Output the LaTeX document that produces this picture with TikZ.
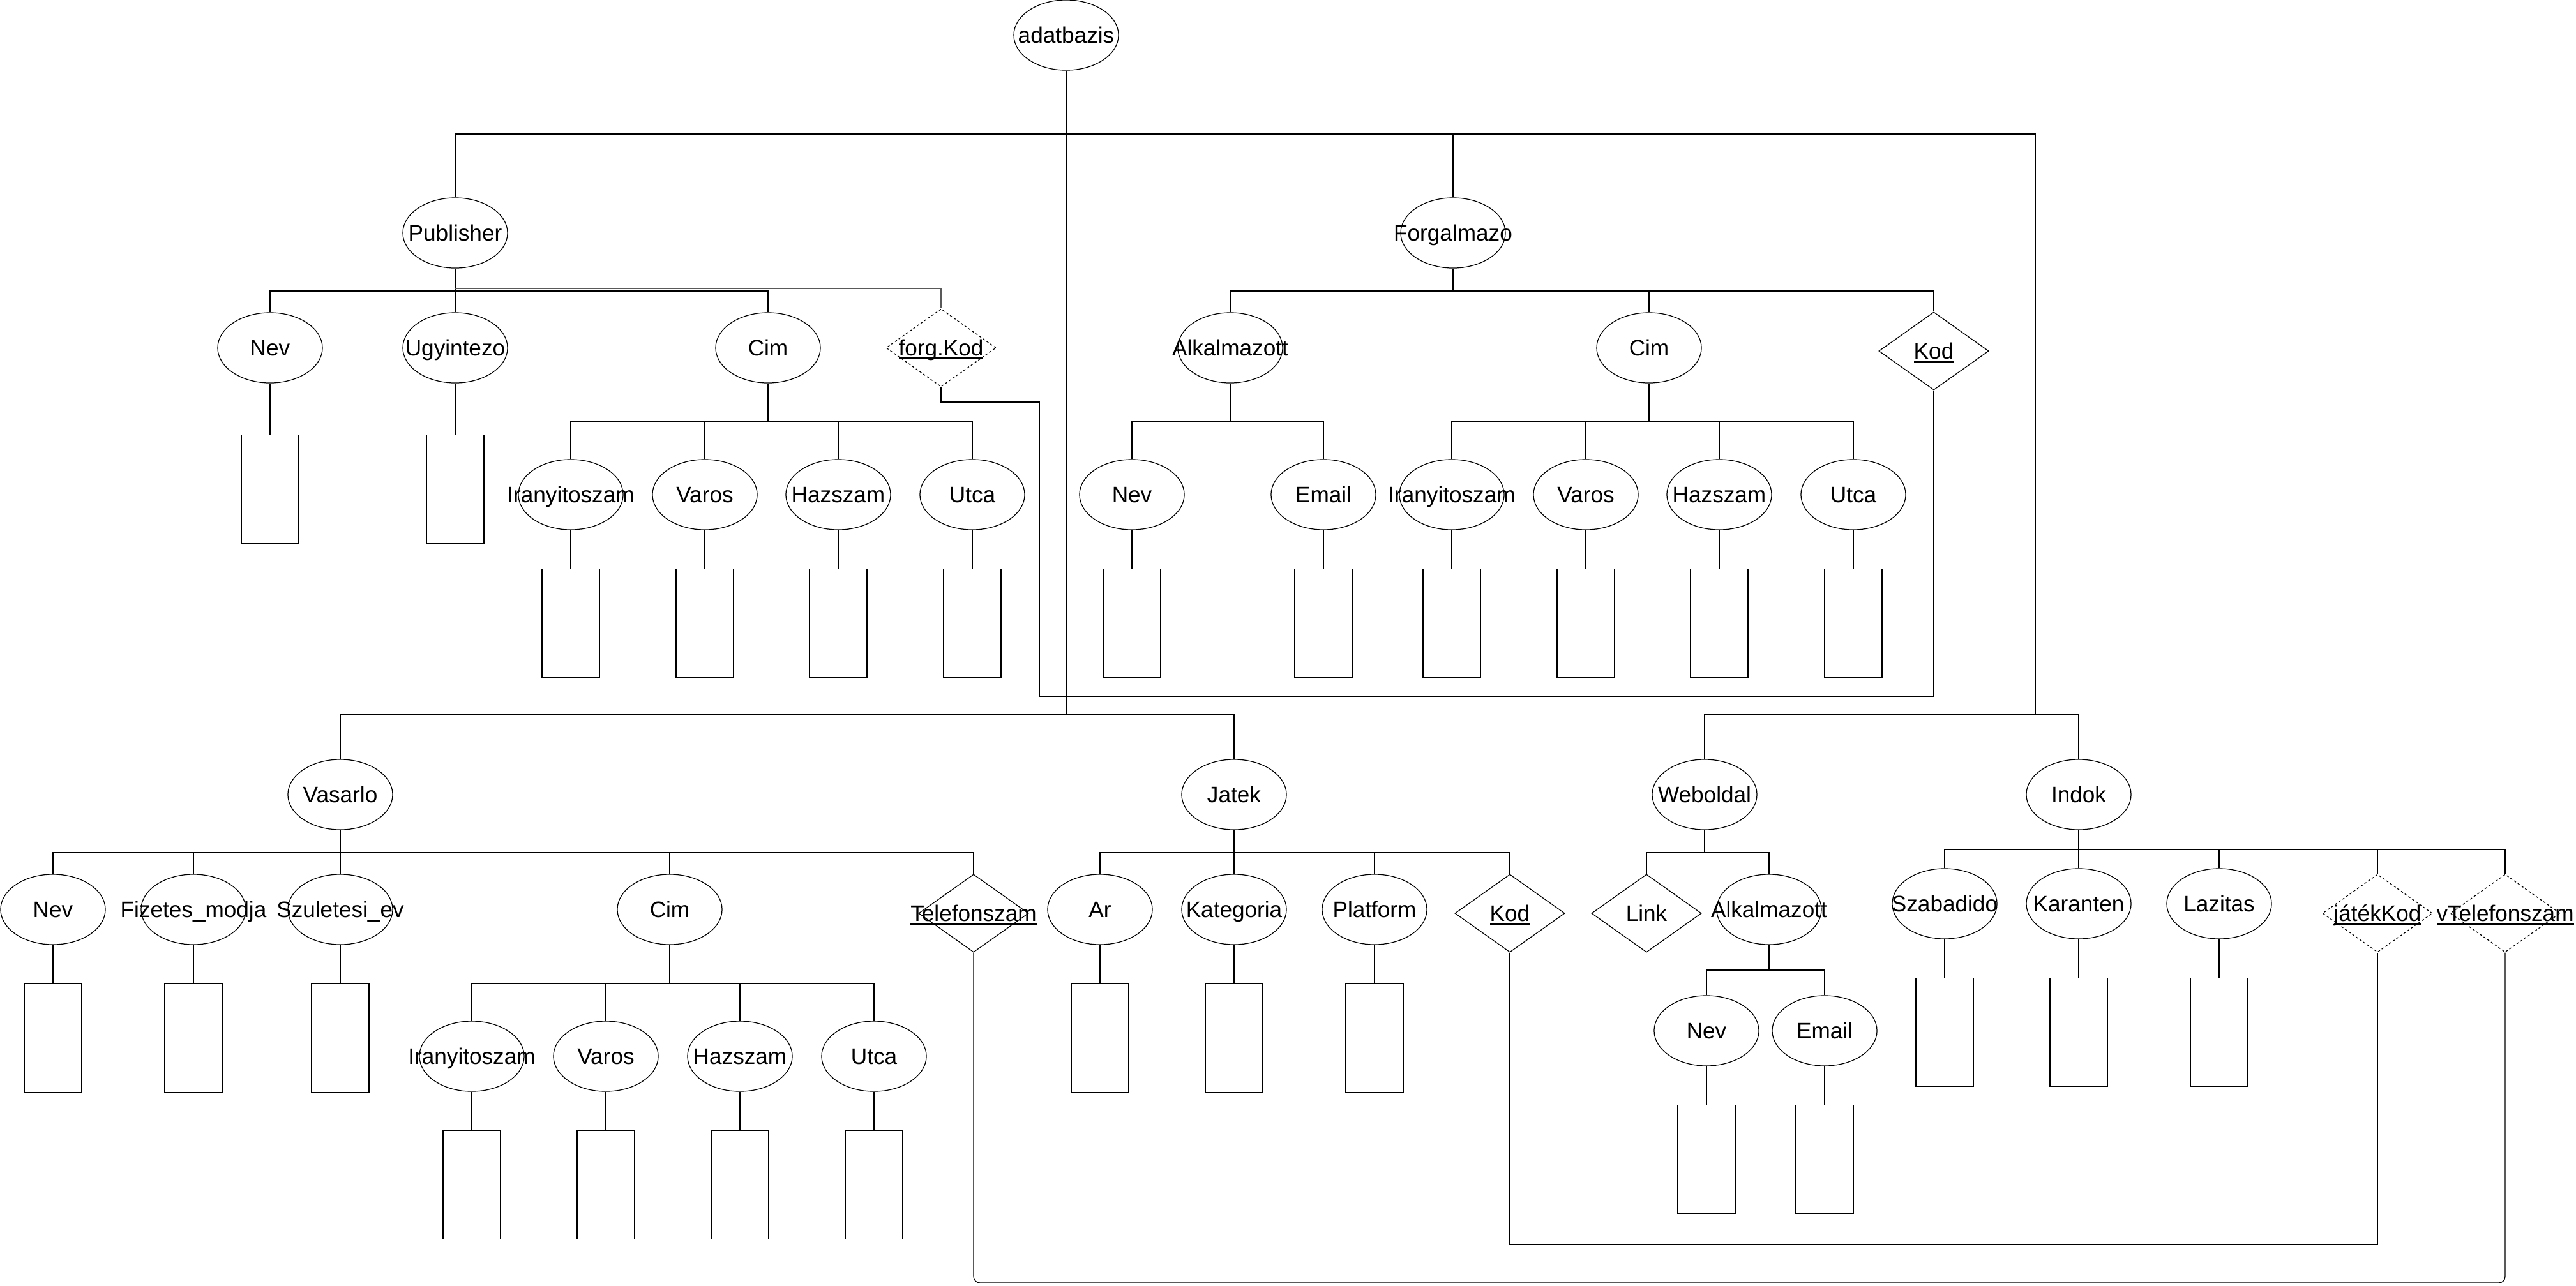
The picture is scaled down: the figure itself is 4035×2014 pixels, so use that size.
\documentclass[tikz,border=0pt]{standalone}
\usepackage{fontspec}
\setmainfont{Liberation Sans}
\usetikzlibrary{shapes.geometric,positioning}
% underlined key text, the line runs through descenders
\newcommand\ukey[1]{\setbox0\hbox{#1}\rlap{\rule[-1.7pt]{\wd0}{0.8pt}}\box0}
\tikzset{
  lbl/.style={text height=9pt, text depth=2.1pt,
    execute at begin node={\hbox to 0pt\bgroup\hss},
    execute at end node={\hss\egroup}},
  oval/.style={ellipse, draw, minimum width=1.64cm, minimum height=1.1cm, inner sep=0pt, lbl},
  keyd/.style={diamond, draw, minimum width=1.72cm, minimum height=1.22cm, inner sep=0pt, lbl},
  fkeyd/.style={keyd, dash pattern=on 1pt off 1pt},
  dom/.style={draw, minimum width=0.9cm, minimum height=1.7cm, inner sep=0pt},
  thicker/.style={line width=0.6pt},
  trunk/.style={line width=0.75pt}
}
\begin{document}
\begin{tikzpicture}[x=0.01cm, y=-0.01cm, line width=0.35pt, node distance=0.6cm,
  font=\fontsize{10}{12}\selectfont]
\useasboundingbox (0,0) rectangle (4035,2014);
% entities
\node[oval] (db) at (1670,55) {adatbazis};
\node[oval] (pub) at (713,365) {Publisher};
\node[oval] (forg) at (2276,365) {Forgalmazo};
\node[oval] (vas) at (533,1245) {Vasarlo};
\node[oval] (jat) at (1933,1245) {Jatek};
\node[oval] (web) at (2670,1245) {Weboldal};
\node[oval] (ind) at (3256,1245) {Indok};
\coordinate (topL) at (713,210);
\coordinate (topR) at (3188,210);
\coordinate (botL) at (533,1120);
\coordinate (botR) at (3188,1120);
\draw[trunk] (db) -- (db |- botL);
\draw (pub) -- (topL) -- (topR) -- (botR);
\draw (forg) -- (forg |- topL);
\draw (vas) -- (botL) -| (jat);
\draw (web) |- (botR) -| (ind);

% Publisher
\node[oval] (pNev) at (423,545) {Nev};
\node[oval] (pUgy) at (713,545) {Ugyintezo};
\node[oval] (pCim) at (1203,545) {Cim};
\node[fkeyd] (pFk) at (1474,545) {\ukey{forg.Kod}};
\node[oval] (pIrsz) at (894,775) {Iranyitoszam};
\node[oval] (pVaros) at (1104,775) {Varos};
\node[oval] (pHsz) at (1313,775) {Hazszam};
\node[oval] (pUtca) at (1523,775) {Utca};
\node[dom, below=0.8cm of pNev] (pNevD) {};
\node[dom, below=0.8cm of pUgy] (pUgyD) {};
\node[dom, below=of pIrsz] (pIrszD) {};
\node[dom, below=of pVaros] (pVarosD) {};
\node[dom, below=of pHsz] (pHszD) {};
\node[dom, below=of pUtca] (pUtcaD) {};
\coordinate (pBus) at (713,456);
\coordinate (pBusK) at (713,452);
\coordinate (pcBus) at (1203,660);
\draw (pub) -- (pBus);
\draw (pNev.north) |- (pBus) -| (pCim.north);
\draw (pBus) -- (pUgy.north);
\draw[black!65, line width=0.5pt] (pBusK) -| (pFk.north);
\draw (pCim) -- (pcBus);
\draw (pIrsz.north) |- (pcBus) -| (pUtca.north);
\draw (pVaros.north) -- (pVaros.north |- pcBus);
\draw (pHsz.north) -- (pHsz.north |- pcBus);
\draw (pNev) -- (pNevD);
\draw (pUgy) -- (pUgyD);
\draw (pIrsz) -- (pIrszD);
\draw (pVaros) -- (pVarosD);
\draw (pHsz) -- (pHszD);
\draw (pUtca) -- (pUtcaD);

% Forgalmazo
\node[oval] (fAlk) at (1927,545) {Alkalmazott};
\node[oval] (fCim) at (2583,545) {Cim};
\node[keyd] (fKod) at (3029,550) {\ukey{Kod}};
\node[oval] (fNev) at (1773,775) {Nev};
\node[oval] (fEmail) at (2073,775) {Email};
\node[oval] (fIrsz) at (2274,775) {Iranyitoszam};
\node[oval] (fVaros) at (2484,775) {Varos};
\node[oval] (fHsz) at (2693,775) {Hazszam};
\node[oval] (fUtca) at (2903,775) {Utca};
\node[dom, below=of fNev] (fNevD) {};
\node[dom, below=of fEmail] (fEmailD) {};
\node[dom, below=of fIrsz] (fIrszD) {};
\node[dom, below=of fVaros] (fVarosD) {};
\node[dom, below=of fHsz] (fHszD) {};
\node[dom, below=of fUtca] (fUtcaD) {};
\coordinate (fBus) at (2276,456);
\coordinate (faBus) at (1927,660);
\coordinate (fcBus) at (2583,660);
\draw (forg) -- (fBus);
\draw (fAlk.north) |- (fBus) -| (fKod.north);
\draw (fCim.north) -- (fCim.north |- fBus);
\draw (fAlk) -- (faBus);
\draw (fNev.north) |- (faBus) -| (fEmail.north);
\draw (fCim) -- (fcBus);
\draw (fIrsz.north) |- (fcBus) -| (fUtca.north);
\draw (fVaros.north) -- (fVaros.north |- fcBus);
\draw (fHsz.north) -- (fHsz.north |- fcBus);
\draw (fNev) -- (fNevD);
\draw (fEmail) -- (fEmailD);
\draw (fIrsz) -- (fIrszD);
\draw (fVaros) -- (fVarosD);
\draw (fHsz) -- (fHszD);
\draw (fUtca) -- (fUtcaD);
% forg.Kod -> Kod
\coordinate (fkA) at (1628,630);
\coordinate (fkB) at (1628,1091);
\draw (pFk.south) |- (fkA) -- (fkB) -| (fKod.south);

% Vasarlo
\node[oval] (vNev) at (83,1425) {Nev};
\node[oval] (vFiz) at (303,1425) {Fizetes\_modja};
\node[oval] (vSzul) at (533,1425) {Szuletesi\_ev};
\node[oval] (vCim) at (1049,1425) {Cim};
\node[keyd] (vTel) at (1525,1431) {\ukey{Telefonszam}};
\node[oval] (vIrsz) at (739,1655) {Iranyitoszam};
\node[oval] (vVaros) at (949,1655) {Varos};
\node[oval] (vHsz) at (1159,1655) {Hazszam};
\node[oval] (vUtca) at (1369,1655) {Utca};
\node[dom, below=of vNev] (vNevD) {};
\node[dom, below=of vFiz] (vFizD) {};
\node[dom, below=of vSzul] (vSzulD) {};
\node[dom, below=of vIrsz] (vIrszD) {};
\node[dom, below=of vVaros] (vVarosD) {};
\node[dom, below=of vHsz] (vHszD) {};
\node[dom, below=of vUtca] (vUtcaD) {};
\coordinate (vBus) at (533,1336);
\coordinate (vcBus) at (1049,1541);
\draw (vas) -- (vBus);
\draw (vNev.north) |- (vBus) -| (vTel.north);
\draw (vFiz.north) -- (vFiz.north |- vBus);
\draw (vBus) -- (vSzul.north);
\draw (vCim.north) -- (vCim.north |- vBus);
\draw[thicker] (vCim) -- (vcBus);
\draw (vIrsz.north) |- (vcBus) -| (vUtca.north);
\draw (vVaros.north) -- (vVaros.north |- vcBus);
\draw (vHsz.north) -- (vHsz.north |- vcBus);
\draw (vNev) -- (vNevD);
\draw (vFiz) -- (vFizD);
\draw (vSzul) -- (vSzulD);
\draw (vIrsz) -- (vIrszD);
\draw (vVaros) -- (vVarosD);
\draw (vHsz) -- (vHszD);
\draw (vUtca) -- (vUtcaD);

% Jatek
\node[oval] (jAr) at (1723,1425) {Ar};
\node[oval] (jKat) at (1933,1425) {Kategoria};
\node[oval] (jPlat) at (2153,1425) {Platform};
\node[keyd] (jKod) at (2365,1431) {\ukey{Kod}};
\node[dom, below=of jAr] (jArD) {};
\node[dom, below=of jKat] (jKatD) {};
\node[dom, below=of jPlat] (jPlatD) {};
\coordinate (jBus) at (1933,1336);
\draw (jat) -- (jBus);
\draw (jAr.north) |- (jBus) -| (jKod.north);
\draw (jBus) -- (jKat.north);
\draw (jPlat.north) -- (jPlat.north |- jBus);
\draw (jAr) -- (jArD);
\draw (jKat) -- (jKatD);
\draw (jPlat) -- (jPlatD);

% Weboldal
\node[keyd] (wLink) at (2579,1431) {Link};
\node[oval] (wAlk) at (2771,1425) {Alkalmazott};
\node[oval] (wNev) at (2673,1615) {Nev};
\node[oval] (wEmail) at (2858,1615) {Email};
\node[dom, below=of wNev] (wNevD) {};
\node[dom, below=of wEmail] (wEmailD) {};
\coordinate (wBus) at (2670,1336);
\coordinate (waBus) at (2771,1520);
\draw[thicker] (web) -- (wBus);
\draw (wLink.north) |- (wBus) -| (wAlk.north);
\draw[thicker] (wAlk) -- (waBus);
\draw (wNev.north) |- (waBus) -| (wEmail.north);
\draw (wNev) -- (wNevD);
\draw (wEmail) -- (wEmailD);

% Indok
\node[oval] (iSzab) at (3046,1416) {Szabadido};
\node[oval] (iKar) at (3256,1416) {Karanten};
\node[oval] (iLaz) at (3476,1416) {Lazitas};
\node[fkeyd] (iJk) at (3724,1431) {\ukey{játékKod}};
\node[fkeyd] (iTel) at (3924,1431) {\ukey{vTelefonszam}};
\node[dom, below=of iSzab] (iSzabD) {};
\node[dom, below=of iKar] (iKarD) {};
\node[dom, below=of iLaz] (iLazD) {};
\coordinate (iBus) at (3256,1331);
\draw[thicker] (ind) -- (iBus);
\draw (iSzab.north) |- (iBus) -| (iTel.north);
\draw (iBus) -- (iKar.north);
\draw (iLaz.north) -- (iLaz.north |- iBus);
\draw (iJk.north) -- (iJk.north |- iBus);
\draw (iSzab) -- (iSzabD);
\draw (iKar) -- (iKarD);
\draw (iLaz) -- (iLazD);

% foreign keys at the bottom
\coordinate (jkLow) at (2365,1950);
\coordinate (telLow) at (1525,2010);
\draw (jKod.south) -- (jkLow) -| (iJk.south);
\draw[rounded corners=0.1cm] (vTel.south) -- (telLow) -| (iTel.south);
\end{tikzpicture}
\end{document}
